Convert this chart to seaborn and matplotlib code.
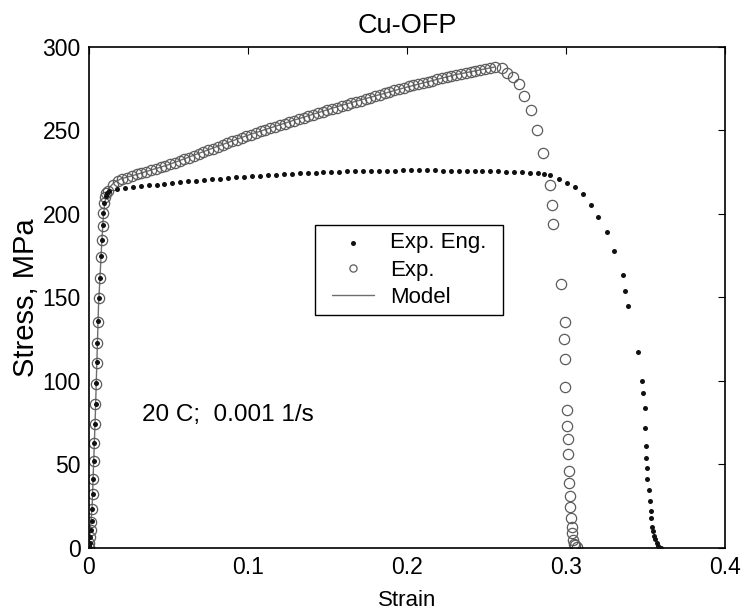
import numpy as np
import pandas as pd
import matplotlib
matplotlib.use('Agg')
import matplotlib.pyplot as plt
import seaborn as sns
from matplotlib.lines import Line2D
from matplotlib.collections import PathCollection
from matplotlib.legend_handler import HandlerLine2D, HandlerPathCollection

# engineering stress-strain (filled dots)
eng_strain = [0.0002, 0.0004, 0.0007, 0.0011, 0.0016, 0.0020, 0.0025, 0.0027, 0.0032, 0.0034,
              0.0038, 0.0042, 0.0044, 0.0049, 0.0052, 0.0057, 0.0062, 0.0069, 0.0075, 0.0082,
              0.0087, 0.0091, 0.0096, 0.0104, 0.0112,
              0.0125, 0.0175, 0.0225, 0.0275, 0.0325, 0.0375, 0.0425, 0.0475, 0.0525, 0.0575,
              0.0625, 0.0675, 0.0725, 0.0775, 0.0825, 0.0875, 0.0925, 0.0975, 0.1025, 0.1075,
              0.1125, 0.1175, 0.1225, 0.1275, 0.1325, 0.1375, 0.1425, 0.1475, 0.1525, 0.1575,
              0.1625, 0.1675, 0.1725, 0.1775, 0.1825, 0.1875, 0.1925, 0.1975, 0.2025, 0.2075,
              0.2125, 0.2175, 0.2225, 0.2275, 0.2325, 0.2375, 0.2425, 0.2475, 0.2525, 0.2575,
              0.2625, 0.2675, 0.2725, 0.2775, 0.2825, 0.2865,
              0.2900, 0.2956, 0.3004, 0.3057, 0.3105, 0.3155, 0.3203, 0.3256, 0.3304, 0.3357,
              0.3370, 0.3392, 0.3455, 0.3480, 0.3482, 0.3497, 0.3497, 0.3503, 0.3505, 0.3511,
              0.3511, 0.3524, 0.3528, 0.3532, 0.3535, 0.3543, 0.3545, 0.3553, 0.3560, 0.3570,
              0.3580, 0.3596]
eng_stress = [1.0, 3.2, 6.6, 11.0, 15.9, 23.4, 32.4, 41.5, 52.3, 62.9,
              74.5, 86.4, 98.6, 111.2, 122.8, 135.7, 149.7, 161.7, 174.6, 184.6,
              193.2, 200.6, 206.6, 210.6, 212.6,
              213.5, 214.8, 215.5, 216.1, 216.6, 217.1, 217.6, 218.1, 218.6, 219.1,
              219.6, 220.0, 220.4, 220.8, 221.2, 221.6, 222.0, 222.4, 222.7, 223.0,
              223.3, 223.6, 223.9, 224.2, 224.4, 224.6, 224.8, 225.0, 225.2, 225.4,
              225.5, 225.6, 225.7, 225.8, 225.9, 226.0, 226.0, 226.1, 226.1, 226.1,
              226.1, 226.1, 226.0, 226.0, 226.0, 225.9, 225.8, 225.7, 225.6, 225.5,
              225.3, 225.1, 224.9, 224.6, 224.3, 224.0,
              223.5, 221.0, 218.7, 216.0, 211.8, 205.6, 198.4, 189.0, 178.0, 163.3,
              153.7, 145.0, 117.6, 100.2, 92.6, 84.0, 71.7, 61.3, 54.0, 48.0,
              41.5, 34.9, 28.1, 22.3, 17.8, 12.8, 10.4, 7.2, 5.2, 2.8,
              1.2, 0.0]

# true stress-strain (open circles)
exp_strain = [0.0001, 0.0003, 0.0006, 0.0010, 0.0015, 0.0019, 0.0024, 0.0026, 0.0031, 0.0033,
              0.0037, 0.0041, 0.0043, 0.0048, 0.0051, 0.0056, 0.0061, 0.0068, 0.0074, 0.0081,
              0.0086, 0.0090, 0.0095, 0.0103, 0.0110,
              0.012, 0.015, 0.018, 0.021, 0.024, 0.027, 0.030, 0.033, 0.036, 0.039,
              0.042, 0.045, 0.048, 0.051, 0.054, 0.057, 0.060, 0.063, 0.066, 0.069,
              0.072, 0.075, 0.078, 0.081, 0.084, 0.087, 0.090, 0.093, 0.096, 0.099,
              0.102, 0.105, 0.108, 0.111, 0.114, 0.117, 0.120, 0.123, 0.126, 0.129,
              0.132, 0.135, 0.138, 0.141, 0.144, 0.147, 0.150, 0.153, 0.156, 0.159,
              0.162, 0.165, 0.168, 0.171, 0.174, 0.177, 0.180, 0.183, 0.186, 0.189,
              0.192, 0.195, 0.198, 0.201, 0.204, 0.207, 0.210, 0.213, 0.216, 0.219,
              0.222, 0.225, 0.228, 0.231, 0.234, 0.237, 0.240, 0.243, 0.246, 0.249,
              0.252, 0.2555, 0.2595, 0.2627, 0.2664, 0.2704, 0.2736, 0.2780, 0.2820, 0.2853,
              0.2899, 0.2911, 0.2916, 0.2966, 0.2992, 0.2990, 0.2996, 0.2996, 0.3004, 0.3004,
              0.3011, 0.3011, 0.3017, 0.3017, 0.3023, 0.3025, 0.3031, 0.3036, 0.3040, 0.3046,
              0.3057, 0.3067, 0.3050]
exp_stress = [0.8, 3.0, 6.4, 10.8, 15.7, 23.2, 32.2, 41.3, 52.1, 62.7,
              74.3, 86.2, 98.4, 111.0, 122.6, 135.5, 149.5, 161.5, 174.4, 184.4,
              193.0, 200.4, 206.4, 210.4, 212.5,
              214.0, 217.5, 219.5, 220.8, 221.8, 222.8, 223.7, 224.6, 225.4, 226.2,
              227.0, 227.9, 228.8, 229.8, 230.8, 231.8, 232.8, 233.8, 234.9, 236.0,
              237.1, 238.1, 239.2, 240.3, 241.4, 242.5, 243.6, 244.6, 245.6, 246.6,
              247.6, 248.6, 249.5, 250.5, 251.4, 252.3, 253.2, 254.1, 255.0, 255.9,
              256.8, 257.6, 258.5, 259.4, 260.3, 261.1, 262.0, 262.8, 263.7, 264.5,
              265.4, 266.2, 267.0, 267.8, 268.6, 269.4, 270.4, 271.3, 272.2, 273.1,
              274.0, 274.8, 275.6, 276.4, 277.1, 277.8, 278.5, 279.2, 279.9, 280.6,
              281.3, 282.0, 282.6, 283.3, 283.9, 284.6, 285.2, 285.8, 286.5, 287.1,
              287.6, 288.1, 287.2, 284.6, 281.8, 277.8, 270.9, 262.3, 250.3, 236.3,
              217.4, 205.6, 194.0, 158.0, 135.1, 125.0, 113.2, 96.2, 82.6, 73.0,
              65.1, 56.1, 46.3, 38.7, 31.3, 24.7, 17.8, 12.8, 8.8, 4.8,
              1.8, 0.8, 2.5]

# model curve (thin grey line)
model_strain = [0.0, 0.002, 0.004, 0.006, 0.008, 0.009, 0.010, 0.011, 0.013, 0.016,
                0.020, 0.030, 0.050, 0.080, 0.100, 0.130, 0.160, 0.200, 0.230, 0.255]
model_stress = [0.0, 25.0, 80.0, 145.0, 182.0, 198.0, 207.0, 212.0, 216.0, 219.0,
                221.0, 223.7, 229.5, 240.2, 247.2, 256.5, 265.4, 276.0, 283.3, 288.0]

eng = pd.DataFrame({'Strain': eng_strain, 'Stress': eng_stress})
exp = pd.DataFrame({'Strain': exp_strain, 'Stress': exp_stress})
model = pd.DataFrame({'Strain': model_strain, 'Stress': model_stress})

sns.set_style('white')
plt.rcParams['font.family'] = ['Liberation Sans', 'DejaVu Sans']
plt.rcParams['text.color'] = 'black'
plt.rcParams['axes.labelcolor'] = 'black'

fig = plt.figure(figsize=(7.47, 6.12), dpi=100)
ax = fig.add_axes([0.1191, 0.1046, 0.8514, 0.8186])

sns.lineplot(data=model, x='Strain', y='Stress', sort=False, estimator=None,
             color='#6e6e6e', linewidth=1.0, label='Model', ax=ax, zorder=1)
sns.lineplot(data=exp, x='Strain', y='Stress', sort=False, estimator=None,
             linestyle='none', marker='o', markersize=7.4, markerfacecolor='none',
             markeredgecolor='#5c5c5c', markeredgewidth=0.9, color='#5c5c5c',
             label='Exp.', ax=ax, zorder=2)
sns.scatterplot(data=eng, x='Strain', y='Stress', color='#111111', s=13,
                linewidth=0, label='Exp. Eng.', ax=ax, zorder=3)

ax.set_xlim(0, 0.4)
ax.set_ylim(0, 300)
ax.set_xticks([0, 0.1, 0.2, 0.3, 0.4])
ax.set_xticklabels(['0', '0.1', '0.2', '0.3', '0.4'])
ax.set_yticks([0, 50, 100, 150, 200, 250, 300])
ax.tick_params(direction='in', top=True, right=True, length=5, width=0.8,
               labelsize=16.5, pad=6, colors='black')
for sp in ax.spines.values():
    sp.set_color('black')
    sp.set_linewidth(1.2)

ax.set_xlabel('Strain', fontsize=16, labelpad=8, color='black')
ax.set_ylabel('Stress, MPa', fontsize=21, labelpad=2, color='black')
ax.set_title('Cu-OFP', fontsize=19.5, pad=10, color='black')
ax.text(0.0333, 79.5, '20 C;  0.001 1/s', fontsize=17.5, va='center', ha='left',
        color='black')

handles, labels = ax.get_legend_handles_labels()
order = [labels.index('Exp. Eng.'), labels.index('Exp.'), labels.index('Model')]
leg = ax.legend([handles[i] for i in order], [labels[i] for i in order],
                loc='upper left', bbox_to_anchor=(0.3553, 0.40, 0.2956, 0.2447),
                mode='expand', fontsize=16,
                frameon=True, fancybox=False, framealpha=1, edgecolor='black',
                borderpad=0.33, labelspacing=0.28, handlelength=2.34, handletextpad=0.72,
                borderaxespad=0, scatterpoints=1, numpoints=1,
                handler_map={Line2D: HandlerLine2D(xpad=0.45),
                             PathCollection: HandlerPathCollection(xpad=0.45)})
leg.get_frame().set_linewidth(1.0)
leg.legend_handles[1].set_markersize(5.2)
for t in leg.get_texts():
    t.set_color('black')

fig.savefig('out.png', dpi=100)
